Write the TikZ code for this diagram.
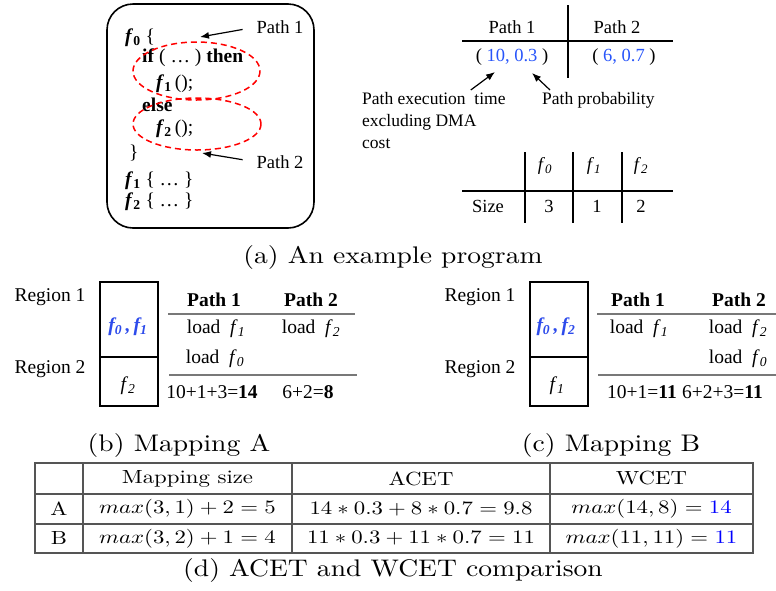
\documentclass[tikz,border=0pt]{standalone}
\usepackage{fontspec}
\newfontfamily\timesf{Liberation Serif}
\usetikzlibrary{arrows.meta}

\definecolor{valblue}{RGB}{40,85,250}
\definecolor{mapblue}{RGB}{45,75,235}
\definecolor{wblue}{RGB}{0,0,255}
\definecolor{rulegray}{RGB}{120,120,120}
\definecolor{gridgray}{RGB}{85,85,85}

\newcommand{\fn}[1]{\textbf{\textit{f}}\textsubscript{\textbf{#1}}}
\newcommand{\fit}[1]{\textit{f}\textsubscript{\textit{#1}}}
% captions and table cells: 10pt design, stretched
\newcommand{\capbox}[1]{\scalebox{2.76}[2.4]{\fontsize{10}{12}\selectfont #1}}
\newcommand{\cellbox}[1]{\scalebox{2.28}[1.9]{\fontsize{10}{12}\selectfont #1}}

\tikzset{
  code/.style={anchor=base west, inner sep=0pt, font=\timesf\fontsize{19.5}{21}\selectfont},
  tm/.style={inner sep=0pt, font=\timesf\fontsize{18.5}{20}\selectfont},
  mp/.style={inner sep=0pt, font=\timesf\fontsize{19.5}{21}\selectfont},
  note/.style={inner sep=0pt, anchor=north west, align=left, font=\timesf\fontsize{17.5}{22}\selectfont},
  capt/.style={inner sep=0pt},
  cell/.style={inner sep=0pt},
  ptr/.style={-{Latex[length=9pt,width=7pt]}, line width=1.2pt},
  pathring/.style={red, line width=1.5pt, dash pattern=on 6pt off 4pt},
  rule/.style={line width=1.3pt},
  grayrule/.style={rulegray, line width=1.4pt},
  mapbox/.style={line width=2pt},
  grid/.style={gridgray, line width=1.2pt}
}

\begin{document}
\begin{tikzpicture}[x=1pt,y=-1pt]
\useasboundingbox (0,0) rectangle (776,590);

% (a) the program
\draw[line width=1.6pt, rounded corners=26pt] (107,4) rectangle (314,228);
\node[code] (l0) at (125,42) {\fn{0} \{};
\node[code] (l1) at (142,62) {\textbf{if} ( … ) \textbf{then}};
\node[code] (l2) at (156,88) {\fn{1}\,();};
\node[code] (l3) at (142,111) {\textbf{else}};
\node[code] (l4) at (156,133) {\fn{2}\,();};
\node[code] (l5) at (129,158) {\}};
\node[code] (l6) at (125,185) {\fn{1} \{ … \}};
\node[code] (l7) at (125,206) {\fn{2} \{ … \}};
\draw[pathring] (196.5,71) ellipse [x radius=63.5, y radius=29];
\draw[pathring] (197,124) ellipse [x radius=64, y radius=26];
\node[tm] (p1lbl) at (280,27) {Path 1};
\node[tm] (p2lbl) at (280,162) {Path 2};
\coordinate (ring1) at (200,37);
\coordinate (ring2) at (202,153);
\draw[ptr, shorten <=14pt] (p1lbl.west) -- (ring1);
\draw[ptr, shorten <=14pt] (p2lbl.west) -- (ring2);

% path table
\draw[rule] (462,41) -- (673,41);
\draw[rule] (568,5) -- (568,78);
\node[tm] (h1) at (512,27) {Path 1};
\node[tm] (h2) at (617,27) {Path 2};
\node[tm] (v1) at (512,57) {( \textcolor{valblue}{10, 0.3} )};
\node[tm] (v2) at (624,57) {( \textcolor{valblue}{6, 0.7} )};
\node[note] (etime) at (362,92) {Path execution\ \ time\\excluding DMA\\cost};
\node[note] (eprob) at (542,92) {Path probability};
\coordinate (ten) at (495,72);
\coordinate (prob) at (532,73);
\draw[ptr] ([xshift=-35pt,yshift=2pt]etime.north east) -- (ten);
\draw[ptr] ([xshift=8pt,yshift=2pt]eprob.north west) -- (prob);

% size table
\foreach \xc in {525,573,622} \draw[rule] (\xc,152) -- (\xc,223);
\draw[rule] (462,191) -- (673,191);
\node[tm] (s0) at (545,166) {\fit{0}};
\node[tm] (s1) at (594,166) {\fit{1}};
\node[tm] (s2) at (641,166) {\fit{2}};
\node[tm] (sz) at (488,206) {Size};
\node[tm] (n0) at (549,206) {3};
\node[tm] (n1) at (597,206) {1};
\node[tm] (n2) at (641,206) {2};
\node[capt] (capa) at (393,257) {\capbox{(a) An example program}};

% (b) mapping A
\node[mp] (ra1) at (50,297) {Region 1};
\node[mp] (ra2) at (50,369) {Region 2};
\draw[mapbox] (100,282) rectangle (158,406);
\draw[mapbox] (100,357) -- (158,357);
\node[mp] (ma1) at (128,327) {\textcolor{mapblue}{\textbf{\textit{f\textsubscript{0}\,,\,f\textsubscript{1}}}}};
\node[mp] (ma2) at (128,386) {\fit{2}};
\node[mp] (pa1) at (214,300) {\textbf{Path 1}};
\node[mp] (pa2) at (311,300) {\textbf{Path 2}};
\draw[grayrule] (168,314) -- (355,314);
\node[mp] (la1) at (216,329) {load\enspace\fit{1}};
\node[mp] (la2) at (311,329) {load\enspace\fit{2}};
\node[mp] (la3) at (215,359) {load\enspace\fit{0}};
\draw[grayrule] (169,375) -- (357,375);
\node[mp] (ta1) at (212,392) {10+1+3=\textbf{14}};
\node[mp] (ta2) at (308,392) {6+2=\textbf{8}};
\node[capt] (capb) at (179,445) {\capbox{(b) Mapping A}};

% (c) mapping B
\node[mp] (rb1) at (480,297) {Region 1};
\node[mp] (rb2) at (480,369) {Region 2};
\draw[mapbox] (530,282) rectangle (588,406);
\draw[mapbox] (530,357) -- (588,357);
\node[mp] (mb1) at (556,327) {\textcolor{mapblue}{\textbf{\textit{f\textsubscript{0}\,,\,f\textsubscript{2}}}}};
\node[mp] (mb2) at (557,386) {\fit{1}};
\node[mp] (pb1) at (638,300) {\textbf{Path 1}};
\node[mp] (pb2) at (739,300) {\textbf{Path 2}};
\draw[grayrule] (597,314) -- (776,314);
\node[mp] (lb1) at (639,329) {load\enspace\fit{1}};
\node[mp] (lb2) at (738,329) {load\enspace\fit{2}};
\node[mp] (lb3) at (738,359) {load\enspace\fit{0}};
\draw[grayrule] (598,375) -- (776,375);
\node[mp] (tb1) at (642,392) {10+1=\textbf{11}};
\node[mp, anchor=west] (tb2) at (682,392) {6+2+3=\textbf{11}};
\node[capt] (capc) at (611,445) {\capbox{(c) Mapping B}};

% (d) comparison table
\draw[grid] (35,463) rectangle (753,553);
\draw[grid] (35,494) -- (753,494);
\draw[grid] (35,524) -- (753,524);
\foreach \xc in {83,292,550} \draw[grid] (\xc,463) -- (\xc,553);
\node[cell] (c01) at (187.5,478.5) {\cellbox{Mapping size}};
\node[cell] (c02) at (421,478.5) {\cellbox{ACET}};
\node[cell] (c03) at (651.5,478.5) {\cellbox{WCET}};
\node[cell] (c10) at (59,509) {\cellbox{A}};
\node[cell] (c11) at (187.5,509) {\cellbox{$max(3,1)+2=5$}};
\node[cell] (c12) at (421,509) {\cellbox{$14*0.3+8*0.7=9.8$}};
\node[cell] (c13) at (651.5,509) {\cellbox{$max(14,8)=\textcolor{wblue}{14}$}};
\node[cell] (c20) at (59,538.5) {\cellbox{B}};
\node[cell] (c21) at (187.5,538.5) {\cellbox{$max(3,2)+1=4$}};
\node[cell] (c22) at (421,538.5) {\cellbox{$11*0.3+11*0.7=11$}};
\node[cell] (c23) at (651.5,538.5) {\cellbox{$max(11,11)=\textcolor{wblue}{11}$}};
\node[capt] (capd) at (393,570) {\capbox{(d) ACET and WCET comparison}};
\end{tikzpicture}
\end{document}
